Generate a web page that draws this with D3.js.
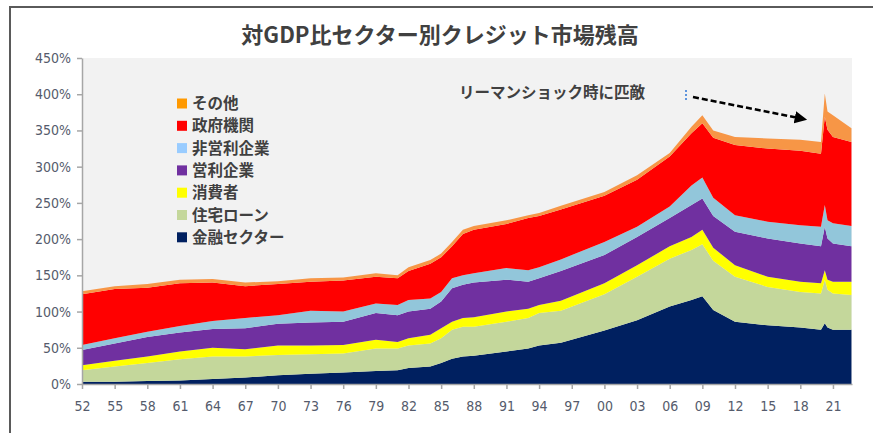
<!DOCTYPE html>
<html>
<head>
<meta charset="utf-8">
<script src="https://cdn.jsdelivr.net/npm/d3@7"></script>
<style>
  body { margin: 0; background: #fff; }
  svg text { font-family: "Noto Sans CJK JP", "Noto Sans", sans-serif; }
  .axis text { font-family: "DejaVu Sans Condensed", "DejaVu Sans", sans-serif; font-size: 14px; fill: #555b6c; }
  .axis path, .axis line { stroke: #a6a6a6; stroke-width: 1.5px; }
</style>
</head>
<body>
<svg id="chart" width="873" height="433"></svg>
<script>
// credit market debt by sector, % of GDP
var years = [1952,1955,1958,1961,1964,1967,1970,1973,1976,1979,
             1981,1982,1984,1985,1986,1987,1988,1991,1993,1994,
             1996,2000,2003,2006,2008,2009,2010,2012,2015,2018,
             2019.9,2020.25,2020.5,2021,2022.7];

var financial  = [3,3,4,5,7,9,12,14,16,18, 19,22,24,29,35,38,39,45,49,53, 57,74,88,107,116,121,102,86,81,78, 75,84,78,75,75];
var mortgage   = [16,21,25,29,31,29,28,27,26,31, 30,31,32,34,40,41,40,41,42,45, 44,50,60,66,69,72,68,62,53,49, 50,60,52,50,48];
var consumer   = [7,8,9,11,12,10,13,12,12,12, 9,10,12,14,11,12,13,14,13,11, 14,15,16,17,18,20,18,16,14,14, 14,13,14,16,18];
var corporate  = [21,24,27,26,26,29,30,32,32,37, 37,37,36,37,46,46,48,44,37,37, 41,39,39,39,44,43,44,46,53,53, 51,60,57,53,49];
var nonprofit  = [7,7,7,9,11,14,12,16,14,13, 14,16,14,13,14,13,13,16,16,15, 16,18,14,16,27,29,25,23,23,25, 27,30,25,28,28];
var government = [70,68,61,59,53,44,43,40,43,37, 37,40,48,48,44,57,60,61,72,71, 69,64,65,69,72,75,83,97,101,103, 101,122,125,119,116];
var other      = [4,4,5,5,5,5,4,5,4,5, 4,5,5,5,6,6,5,5,4,4, 5,5,6,5,9,11,10,11,14,15, 16,32,25,30,19];

// bottom to top
var keys = ["金融セクター","住宅ローン","消費者","営利企業","非営利企業","政府機関","その他"];
var seriesValues = [financial, mortgage, consumer, corporate, nonprofit, government, other];
var areaColors  = ["#002060","#c4d79b","#ffff00","#7030a0","#92c6da","#ff0000","#f79646"];
var legendColors = ["#002060","#c4d79b","#ffff00","#7030a0","#99ccff","#ff0000","#ff9900"];

var xTicks = d3.range(1952, 2022, 3);
var yTicks = d3.range(0, 451, 50);

var svg = d3.select("#chart");

// frame lines (top + left)
svg.append("path")
    .attr("d", "M10,433V7H873")
    .attr("fill", "none")
    .attr("stroke", "#5a5a5a")
    .attr("stroke-width", 2);

var x = d3.scaleLinear().domain([1952, 2022.75]).range([82, 852]);
var y = d3.scaleLinear().domain([0, 450]).range([384, 58]);

svg.append("rect")
    .attr("x", x.range()[0])
    .attr("y", y.range()[1])
    .attr("width", x.range()[1] - x.range()[0])
    .attr("height", y.range()[0] - y.range()[1])
    .attr("fill", "#f2f2f2");

// build rows for the stack
var rows = years.map(function(yr, i) {
  var r = {year: yr};
  keys.forEach(function(k, j) { r[k] = seriesValues[j][i]; });
  return r;
});

var stacked = d3.stack().keys(keys)(rows);

var area = d3.area()
    .x(function(d) { return x(d.data.year); })
    .y0(function(d) { return y(d[0]); })
    .y1(function(d) { return y(d[1]); });

svg.append("g")
  .selectAll("path")
  .data(stacked)
  .enter().append("path")
    .attr("d", area)
    .attr("fill", function(d, i) { return areaColors[i]; });

// axes
svg.append("g")
    .attr("class", "axis")
    .attr("transform", "translate(" + x.range()[0] + ",0)")
    .call(d3.axisLeft(y).tickValues(yTicks).tickSize(5).tickSizeOuter(0).tickPadding(6)
      .tickFormat(function(d) { return d + "%"; }));

svg.append("g")
    .attr("class", "axis")
    .attr("transform", "translate(0," + y.range()[0] + ")")
    .call(d3.axisBottom(x).tickValues(xTicks).tickSize(5).tickSizeOuter(0).tickPadding(12)
      .tickFormat(function(d) { return String(d).slice(2); }));

// title
svg.append("text")
    .attr("x", 440)
    .attr("y", 35)
    .attr("dy", "0.35em")
    .attr("text-anchor", "middle")
    .style("font-size", "22px")
    .style("font-weight", "bold")
    .attr("fill", "#404040")
    .text("対GDP比セクター別クレジット市場残高");

// legend, top item = top layer
var legendKeys = keys.slice().reverse();
var legend = svg.append("g")
    .attr("transform", "translate(177,103.5)");

var item = legend.selectAll("g")
    .data(legendKeys)
    .enter().append("g")
    .attr("transform", function(d, i) { return "translate(0," + (i * 22.3) + ")"; });

item.append("rect")
    .attr("x", 0)
    .attr("y", -5)
    .attr("width", 10)
    .attr("height", 10)
    .attr("fill", function(d) { return legendColors[keys.indexOf(d)]; });

item.append("text")
    .attr("x", 15)
    .attr("dy", "0.36em")
    .style("font-size", "15.5px")
    .style("font-weight", "bold")
    .attr("fill", "#404040")
    .text(function(d) { return d; });

// annotation
svg.append("text")
    .attr("x", 645)
    .attr("y", 93)
    .attr("dy", "0.35em")
    .attr("text-anchor", "end")
    .style("font-size", "15.5px")
    .style("font-weight", "bold")
    .attr("fill", "#404040")
    .text("リーマンショック時に匹敵");

svg.append("defs").append("marker")
    .attr("id", "arrow")
    .attr("viewBox", "0 0 10 10")
    .attr("refX", 5)
    .attr("refY", 5)
    .attr("markerWidth", 5)
    .attr("markerHeight", 5)
    .attr("orient", "auto")
  .append("path")
    .attr("d", "M0,0L10,5L0,10z")
    .attr("fill", "#000");

svg.append("line")
    .attr("x1", 693).attr("y1", 97)
    .attr("x2", 801).attr("y2", 118.5)
    .attr("stroke", "#000")
    .attr("stroke-width", 2.5)
    .attr("stroke-dasharray", "6,3")
    .attr("marker-end", "url(#arrow)");

svg.append("line")
    .attr("x1", 686).attr("y1", 90)
    .attr("x2", 686).attr("y2", 101)
    .attr("stroke", "#2e75d6")
    .attr("stroke-width", 1.5)
    .attr("stroke-dasharray", "2,2");
</script>
</body>
</html>
